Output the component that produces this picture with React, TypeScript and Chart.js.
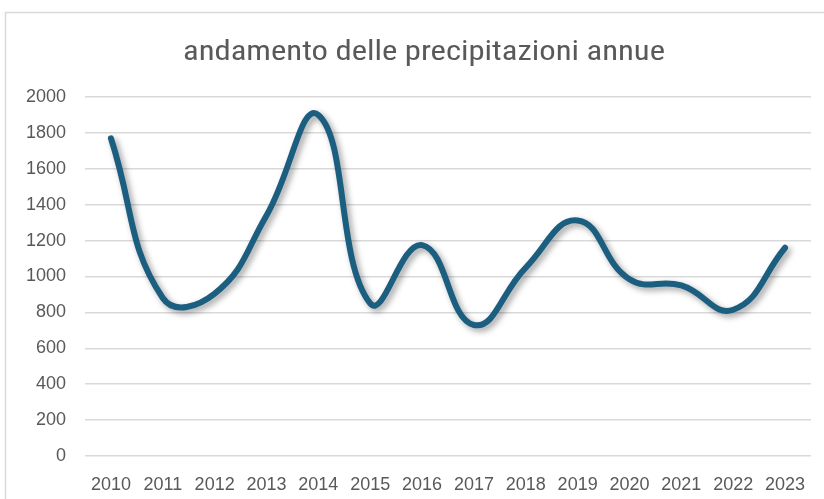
import React, { useEffect, useRef } from "react";
import { Chart, registerables } from "chart.js";

Chart.register(...registerables);

const titleText = "andamento delle precipitazioni annue";
const years = ["2010", "2011", "2012", "2013", "2014", "2015", "2016", "2017", "2018", "2019", "2020", "2021", "2022", "2023"];
const precipitation = [1770, 880, 905, 1340, 1900, 850, 1175, 730, 1050, 1312, 985, 950, 815, 1160];
const yTicks = [0, 200, 400, 600, 800, 1000, 1200, 1400, 1600, 1800, 2000];

const tickFont = { family: "'Liberation Sans', Arial, sans-serif", size: 18 };

const framePlugin = {
  id: "frame",
  beforeDraw(chart: any) {
    const ctx = chart.ctx;
    ctx.save();
    ctx.fillStyle = "#ffffff";
    ctx.fillRect(0, 0, chart.width, chart.height);
    ctx.strokeStyle = "#d9d9d9";
    ctx.lineWidth = 1.5;
    ctx.strokeRect(5.5, 12.5, chart.width + 20, chart.height + 20);
    ctx.restore();
  },
  afterDraw(chart: any) {
    const ctx = chart.ctx;
    ctx.save();
    ctx.font = "27px 'Liberation Sans Narrow', 'Roboto Condensed', 'Liberation Sans', sans-serif";
    ctx.fillStyle = "#595959";
    ctx.textBaseline = "alphabetic";
    ctx.textAlign = "center";
    const w = ctx.measureText(titleText).width;
    const target = 482;
    const sx = target / w;
    ctx.translate(424, 60);
    ctx.scale(sx, 1);
    ctx.fillText(titleText, 0, 0);
    ctx.restore();
  },
};

const shadowPlugin = {
  id: "lineShadow",
  beforeDatasetsDraw(chart: any) {
    const ctx = chart.ctx;
    ctx.save();
    ctx.shadowColor = "rgba(0,0,0,0.38)";
    ctx.shadowBlur = 6;
    ctx.shadowOffsetX = 3;
    ctx.shadowOffsetY = 3;
  },
  afterDatasetsDraw(chart: any) {
    chart.ctx.restore();
  },
};

export default function App() {
  const ref = useRef<HTMLCanvasElement | null>(null);
  useEffect(() => {
    if (!ref.current) return;
    const chart = new Chart(ref.current, {
      type: "line",
      data: {
        labels: years,
        datasets: [
          {
            data: precipitation,
            borderColor: "#1b5e80",
            borderWidth: 6,
            pointRadius: 0,
            tension: 0.45,
            borderCapStyle: "round",
            borderJoinStyle: "round",
            fill: false,
          },
        ],
      },
      options: {
        responsive: false,
        animation: false,
        devicePixelRatio: 1,
        layout: { padding: { top: 97, right: 13, left: 0, bottom: 0 } },
        plugins: {
          legend: { display: false },
          title: { display: false },
          tooltip: { enabled: false },
        },
        scales: {
          x: {
            type: "category",
            offset: true,
            grid: { display: false, drawTicks: false },
            border: { display: false },
            ticks: { color: "#595959", font: tickFont, padding: 18, maxRotation: 0, autoSkip: false },
            afterFit(scale: any) {
              scale.height = 43;
            },
          },
          y: {
            min: 0,
            max: 2000,
            afterBuildTicks(scale: any) {
              scale.ticks = yTicks.map((v) => ({ value: v }));
            },
            grid: { color: "#d9d9d9", lineWidth: 1.5, drawTicks: false },
            border: { display: false },
            ticks: {
              color: "#595959",
              font: tickFont,
              padding: 19,
              callback: (v: any) => String(v),
            },
            afterFit(scale: any) {
              scale.width = 85;
            },
          },
        },
      },
      plugins: [framePlugin, shadowPlugin],
    } as any);
    return () => chart.destroy();
  }, []);
  return (
    <canvas
      ref={ref}
      width={824}
      height={499}
      style={{ position: "fixed", left: 0, top: 0, width: 824, height: 499 }}
    />
  );
}
